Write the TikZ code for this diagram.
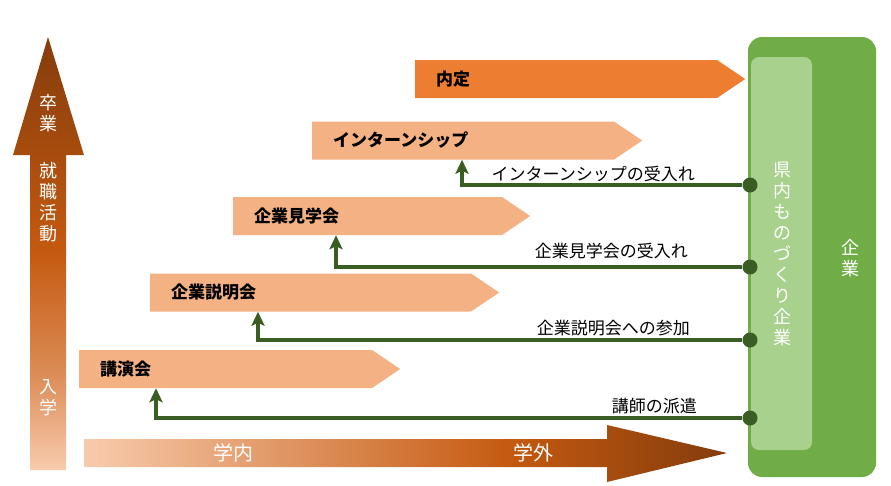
\documentclass[tikz,border=0pt]{standalone}
\usepackage{fontspec}
\setmainfont{Noto Sans CJK JP}
\usepackage{tikz}
\usetikzlibrary{
  arrows.meta,
  positioning,
  shapes.symbols,
  calc
}
\definecolor{jporange}{HTML}{ED7D31}
\definecolor{jppeach}{HTML}{F4B183}
\definecolor{jppale}{HTML}{F8CBAD}
\definecolor{jpmid}{HTML}{C55A11}
\definecolor{jpbrown}{HTML}{843C0C}
\definecolor{jpgreen}{HTML}{70AD47}
\definecolor{jplime}{HTML}{A9D18E}
\definecolor{jpdark}{HTML}{3A5D23}
\pgfdeclarehorizontalshading{campus}{100bp}{color(0bp)=(jppale); color(25bp)=(jppale);
  color(58bp)=(jpmid); color(75bp)=(jpbrown); color(100bp)=(jpbrown)}
\pgfdeclareverticalshading{career}{100bp}{color(0bp)=(jppale); color(25bp)=(jppale);
  color(36bp)=(jpmid!55!jppale); color(50bp)=(jpmid); color(75bp)=(jpbrown); color(100bp)=(jpbrown)}

\begin{document}
\begin{tikzpicture}[
  x=1pt, y=-1pt,
  bar/.style={shape=signal, signal to=east, signal pointer angle=68,
    minimum height=38pt, inner sep=0pt, anchor=west, draw=none},
  bartext/.style={font=\fontsize{17}{20}\selectfont\bfseries, anchor=west, inner sep=0pt},
  link/.style={-{Stealth[length=14pt, width=13pt, inset=3pt]}, line width=3.2pt, jpdark},
  linktext/.style={font=\fontsize{17}{20}\selectfont, anchor=east, inner sep=0pt},
  dot/.style={circle, fill=jpdark, minimum size=15pt, inner sep=0pt},
  vtext/.style={font=\fontsize{18}{21}\selectfont, text=white, align=center, inner sep=0pt}
]
  \useasboundingbox (0,0) rectangle (891,485);

  % --- Axes ---
  \shade[shading=career]
    (30,470) -- (30,155) -- (13,155) -- (48,37) -- (84,155) -- (66,155) -- (66,470) -- cycle;
  \shade[shading=campus]
    (84,439) -- (607,439) -- (607,425) -- (727,453) -- (607,482) -- (607,467) -- (84,467) -- cycle;
  \node[vtext] (grad) at (48,113) {卒\\業};
  \node[vtext] (hunt) at (48,202) {就\\職\\活\\動};
  \node[vtext] (enter) at (48,398) {入\\学};
  \node[vtext, font=\fontsize{20}{22}\selectfont] (inside) at (233,453) {学内};
  \node[vtext, font=\fontsize{20}{22}\selectfont] (outside) at (533,453) {学外};

  % --- Companies ---
  \node[fill=jpgreen, rounded corners=14pt, minimum width=128pt, minimum height=440pt,
    inner sep=0pt] (firm) at (812,257) {};
  \node[fill=jplime, rounded corners=8pt, minimum width=61pt, minimum height=393pt,
    inner sep=0pt] (local) at (781.5,253.5) {};
  \node[vtext] (localtext) at (782,254) {県\\内\\も\\の\\づ\\く\\り\\企\\業};
  \node[vtext] (firmtext) at (850,258) {企\\業};

  % --- Steps ---
  \node[bar, fill=jporange, minimum width=330pt] (offer) at (415,79) {};
  \node[bar, fill=jppeach, minimum width=330pt] (intern) at (312,140.5) {};
  \node[bar, fill=jppeach, minimum width=297pt] (visit) at (233,216) {};
  \node[bar, fill=jppeach, minimum width=349pt] (brief) at (150,292.5) {};
  \node[bar, fill=jppeach, minimum width=321pt] (lecture) at (79,369) {};
  \node[bartext] (offertext) at ([xshift=21pt]offer.west) {内定};
  \node[bartext] (interntext) at ([xshift=21pt]intern.west) {インターンシップ};
  \node[bartext] (visittext) at ([xshift=21pt]visit.west) {企業見学会};
  \node[bartext] (brieftext) at ([xshift=21pt]brief.west) {企業説明会};
  \node[bartext] (lecturetext) at ([xshift=21pt]lecture.west) {講演会};

  % --- Links ---
  \node[dot] (d1) at (750,185) {};
  \node[dot] (d2) at (750,267) {};
  \node[dot] (d3) at (750,340) {};
  \node[dot] (d4) at (750,418) {};
  \draw[link] (d1) -| ([xshift=150pt]intern.south west);
  \draw[link] (d2) -| ([xshift=103pt]visit.south west);
  \draw[link] (d3) -| ([xshift=108pt]brief.south west);
  \draw[link] (d4) -| ([xshift=77pt]lecture.south west);
  \node[linktext] (l1) at (695,174) {インターンシップの受入れ};
  \node[linktext] (l2) at (688,251) {企業見学会の受入れ};
  \node[linktext] (l3) at (690,328) {企業説明会への参加};
  \node[linktext] (l4) at (697,406) {講師の派遣};
\end{tikzpicture}
\end{document}
